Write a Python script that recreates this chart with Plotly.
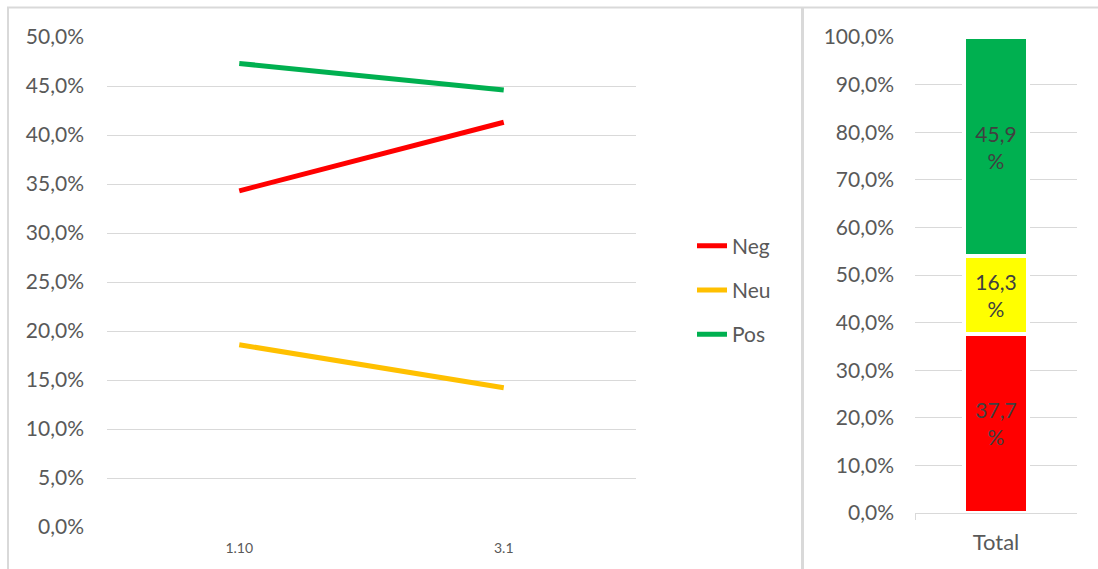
import plotly.graph_objects as go

# ---- data ----
periods = ["1.10", "3.1"]
neg_vals = [0.343, 0.413]
neu_vals = [0.186, 0.142]
pos_vals = [0.473, 0.446]

total_cat = ["Total"]
total_neg = [0.377]
total_neu = [0.163]
total_pos = [0.459]

line_colors = {"Neg": "#FF0000", "Neu": "#FFC000", "Pos": "#00B050"}
bar_colors = {"Neg": "#FF0000", "Neu": "#FFFF00", "Pos": "#00B050"}

W, H = 1098, 569
FONT = "Lato, 'Open Sans', sans-serif"
TXT = "#595959"
GRID = "#D9D9D9"
FS = 21

fig = go.Figure()

for name, vals, grp in [("Neg", neg_vals, "a"), ("Neu", neu_vals, "b"), ("Pos", pos_vals, "c")]:
    fig.add_trace(go.Scatter(
        x=periods, y=vals, name=name, mode="lines",
        line=dict(color=line_colors[name], width=5),
        xaxis="x", yaxis="y", legendgroup=grp,
    ))

def pct_label(v):
    return f"{v*100:.1f}".replace(".", ",") + "<br>%"

for name, vals in [("Neg", total_neg), ("Neu", total_neu), ("Pos", total_pos)]:
    fig.add_trace(go.Bar(
        x=total_cat, y=vals, name=name, showlegend=False,
        marker=dict(color=bar_colors[name], line=dict(color="white", width=4)),
        text=[pct_label(v) for v in vals], textposition="inside",
        insidetextanchor="middle", textangle=0,
        textfont=dict(size=FS, color="#404040", family=FONT),
        width=0.395, xaxis="x2", yaxis="y2",
    ))

def px_x(p):
    return p / W

def px_y(p):
    return 1 - p / H

fig.update_layout(
    width=W, height=H,
    margin=dict(l=0, r=0, t=0, b=0, autoexpand=False),
    paper_bgcolor="white", plot_bgcolor="white",
    separators=",.",
    barmode="stack",
    font=dict(family=FONT, color=TXT, size=FS),
    xaxis=dict(domain=[px_x(107), px_x(636)], type="category",
               range=[-0.5, 1.5], showgrid=False, zeroline=False,
               showline=False, ticks="", automargin=False,
               ticklabelstandoff=11,
               tickfont=dict(size=14, color=TXT), anchor="y"),
    yaxis=dict(domain=[px_y(527), px_y(37)], range=[0, 0.5], dtick=0.05,
               tickformat=".1%", showgrid=True, gridcolor=GRID, gridwidth=1,
               zeroline=False, showline=False, ticks="", automargin=False,
               ticklabelstandoff=22,
               tickfont=dict(size=FS, color=TXT), anchor="x"),
    xaxis2=dict(domain=[px_x(915), px_x(1077)], type="category",
                range=[-0.5, 0.5], showgrid=False, zeroline=False,
                showline=True, linecolor=GRID, linewidth=1,
                ticks="outside", tickson="boundaries", ticklen=6,
                tickcolor=GRID, automargin=False,
                ticklabelstandoff=10,
                tickfont=dict(size=22, color=TXT), anchor="y2"),
    yaxis2=dict(domain=[px_y(513), px_y(37)], range=[0, 1], dtick=0.1,
                tickformat=".1%", showgrid=True, gridcolor=GRID, gridwidth=1,
                zeroline=False, showline=False, ticks="", automargin=False,
                ticklabelstandoff=20,
                tickfont=dict(size=FS, color=TXT), anchor="x2"),
    legend=dict(x=px_x(692), y=px_y(290), xanchor="left", yanchor="middle",
                font=dict(size=FS, color=TXT), tracegroupgap=14,
                bgcolor="rgba(0,0,0,0)", itemwidth=30),
    shapes=[
        dict(type="line", xref="paper", yref="paper", x0=px_x(7), x1=1,
             y0=px_y(7.5), y1=px_y(7.5), line=dict(color=GRID, width=2)),
        dict(type="line", xref="paper", yref="paper", x0=px_x(8), x1=px_x(8),
             y0=px_y(7), y1=0, line=dict(color=GRID, width=2)),
        dict(type="line", xref="paper", yref="paper", x0=px_x(802.5), x1=px_x(802.5),
             y0=px_y(7), y1=0, line=dict(color=GRID, width=3)),
    ],
)

fig.write_html("out.html")
